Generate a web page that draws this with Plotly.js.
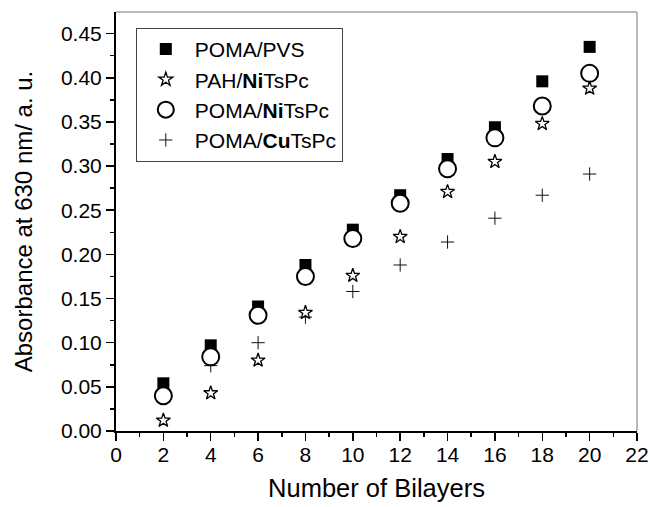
<!DOCTYPE html>
<html>
<head>
<meta charset="utf-8">
<script src="https://cdn.plot.ly/plotly-3.0.1.min.js"></script>
<style>html,body{margin:0;padding:0;background:#fff;}#chart{width:650px;height:507px;}</style>
</head>
<body>
<div id="chart"></div>
<script>
var bilayers = [2, 4, 6, 8, 10, 12, 14, 16, 18, 20];
var pomaPvs   = [0.054, 0.097, 0.141, 0.188, 0.228, 0.267, 0.308, 0.344, 0.396, 0.435];
var pahNi     = [0.012, 0.043, 0.080, 0.134, 0.176, 0.220, 0.271, 0.305, 0.348, 0.388];
var pomaNi    = [0.040, 0.084, 0.131, 0.175, 0.218, 0.258, 0.297, 0.332, 0.368, 0.405];
var pomaCu    = [0.047, 0.074, 0.100, 0.129, 0.158, 0.188, 0.214, 0.241, 0.267, 0.291];
var names = ["POMA/PVS", "PAH/<b>Ni</b>TsPc", "POMA/<b>Ni</b>TsPc", "POMA/<b>Cu</b>TsPc"];

var FONT = "Liberation Sans, Arial, sans-serif";

var traces = [
  {x: bilayers, y: pomaPvs, name: names[0], mode: "markers", type: "scatter", legendrank: 1,
   marker: {symbol: "square", size: 12, color: "#000", line: {width: 0}}},
  {x: bilayers, y: pomaCu, name: names[3], mode: "markers", type: "scatter", legendrank: 4,
   marker: {symbol: "cross-thin", size: 9.5, color: "#000", line: {width: 1, color: "#111"}}},
  {x: bilayers, y: pahNi, name: names[1], mode: "markers", type: "scatter", legendrank: 2,
   marker: {symbol: "star", size: 10.5, color: "#fff", line: {width: 1.3, color: "#000"}}},
  {x: bilayers, y: pomaNi, name: names[2], mode: "markers", type: "scatter", legendrank: 3,
   marker: {symbol: "circle", size: 17, color: "#fff", line: {width: 2, color: "#000"}}}
];

var layout = {
  width: 650, height: 507,
  margin: {l: 116, r: 13, t: 12, b: 76},
  paper_bgcolor: "#fff", plot_bgcolor: "#fff",
  font: {family: FONT, size: 21, color: "#000"},
  showlegend: true,
  legend: {x: 0.038, y: 0.962, xanchor: "left", yanchor: "top",
           bgcolor: "#fff", bordercolor: "#444", borderwidth: 1, itemwidth: 48,
           font: {family: FONT, size: 21, color: "#000"}, tracegroupgap: 0},
  xaxis: {
    range: [0, 22], dtick: 2, tick0: 0, showgrid: false, zeroline: false,
    showline: true, linecolor: "#000", linewidth: 2,
    ticks: "outside", ticklen: 8, tickwidth: 1.5, tickcolor: "#000",
    ticklabelstandoff: -4,
    minor: {dtick: 1, ticks: "outside", ticklen: 4, tickwidth: 1.5, tickcolor: "#000", showgrid: false},
    tickfont: {family: FONT, size: 21, color: "#000"},
    title: {text: "Number of Bilayers", font: {family: FONT, size: 25.5, color: "#000"}, standoff: 14},
    automargin: false
  },
  yaxis: {
    range: [0, 0.4745], dtick: 0.05, tick0: 0, tickformat: ".2f", showgrid: false, zeroline: false,
    showline: true, linecolor: "#000", linewidth: 2,
    ticks: "outside", ticklen: 8, tickwidth: 1.5, tickcolor: "#000",
    minor: {dtick: 0.025, ticks: "outside", ticklen: 4, tickwidth: 1.5, tickcolor: "#000", showgrid: false},
    tickfont: {family: FONT, size: 21, color: "#000"},
    title: {text: "Absorbance at 630 nm/ a. u.", font: {family: FONT, size: 24, color: "#000"}, standoff: 22},
    automargin: false
  },
  shapes: [
    {type: "line", xref: "paper", yref: "paper", x0: 0, x1: 1, y0: 1, y1: 1, line: {color: "#777", width: 1}},
    {type: "line", xref: "paper", yref: "paper", x0: 1, x1: 1, y0: 0, y1: 1, line: {color: "#777", width: 1}}
  ]
};

Plotly.newPlot("chart", traces, layout, {displayModeBar: false, staticPlot: true});
</script>
</body>
</html>
